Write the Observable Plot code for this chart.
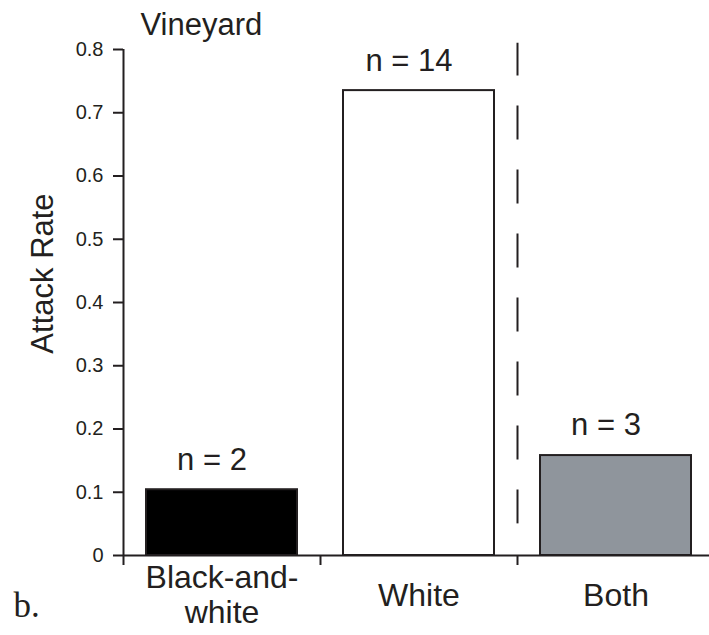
<!DOCTYPE html>
<html><head><meta charset="utf-8">
<script src="https://cdn.jsdelivr.net/npm/d3@7"></script>
<script src="https://cdn.jsdelivr.net/npm/@observablehq/plot@0.6"></script>
<style>body{margin:0;background:#fff} svg{display:block}</style>
</head><body><div id="chart"></div>
<script>
const categories = ["Black-and-\nwhite", "White", "Both"];
const attackRates = [0.104, 0.735, 0.158];
const sampleLabels = ["n = 2", "n = 14", "n = 3"];
const barFills = ["#000000", "#ffffff", "#8f959c"];
const yTicks = [0, 0.1, 0.2, 0.3, 0.4, 0.5, 0.6, 0.7, 0.8];
const yTickLabels = ["0", "0.1", "0.2", "0.3", "0.4", "0.5", "0.6", "0.7", "0.8"];
const xBoundaries = [0, 1, 2];
const dividerAt = [2];
const dividerSpan = [0.05, 0.81];
const title = "Vineyard";
const yLabel = "Attack Rate";
const panelLabel = "b.";

const ink = "#231f20";
const sans = "'Liberation Sans', Arial, Helvetica, sans-serif";

const data = categories.map((c, i) => ({cat: c, i, value: attackRates[i], n: sampleLabels[i], fill: barFills[i]}));

const chart = Plot.plot({
  width: 709,
  height: 635,
  marginTop: 49,
  marginBottom: 80,
  marginLeft: 123,
  marginRight: 0,
  style: {fontFamily: sans, color: ink, background: "#fff"},
  x: {domain: [0, 3], range: [123, 714], label: null},
  y: {domain: [0, 0.8], range: [555, 49], label: null},
  color: {type: "identity"},
  marks: [
    Plot.rectY(data, {x1: "i", x2: d => d.i + 1, y: "value", fill: "fill", stroke: ink, strokeWidth: 2, insetLeft: 23, insetRight: 23}),
    Plot.ruleX([0], {y1: 0, y2: 0.8, stroke: ink, strokeWidth: 2}),
    Plot.ruleY([0], {x1: 0, x2: 3, stroke: ink, strokeWidth: 2}),
    Plot.axisY({ticks: yTicks, tickFormat: () => "", tickSize: 10, stroke: ink, strokeWidth: 2, label: null}),
    Plot.text(yTicks, {x: 0, y: d => d, text: (d, i) => yTickLabels[i], textAnchor: "end", lineAnchor: "middle", dx: -20, fontSize: 20, fill: ink}),
    Plot.axisX({ticks: xBoundaries, tickFormat: () => "", tickSize: 10, stroke: ink, strokeWidth: 2, label: null}),
    Plot.ruleX(dividerAt, {y1: dividerSpan[0], y2: dividerSpan[1], stroke: ink, strokeWidth: 2, strokeDasharray: "34 30"}),
    Plot.text(data, {x: d => d.i + 0.5, y: "value", text: "n", dx: -10, dy: -30, fontSize: 31, fill: ink, lineAnchor: "middle"}),
    Plot.text(data, {x: d => d.i + 0.5, y: 0, text: "cat", dy: 39, fontSize: 32, lineHeight: 1.1, fill: ink, lineAnchor: "middle"}),
    Plot.text([title], {frameAnchor: "top-left", dx: 17, dy: -24, textAnchor: "start", lineAnchor: "middle", fontSize: 31, fill: ink}),
    Plot.text([yLabel], {frameAnchor: "left", rotate: -90, dx: -80, dy: -29, textAnchor: "middle", lineAnchor: "middle", fontSize: 31, fill: ink}),
    Plot.text([panelLabel], {frameAnchor: "bottom-left", dx: -110, dy: 50, textAnchor: "start", lineAnchor: "middle", fontSize: 35, fontFamily: "'Liberation Serif', 'DejaVu Serif', serif", fill: ink})
  ]
});
document.getElementById("chart").appendChild(chart);
</script>
</body></html>
